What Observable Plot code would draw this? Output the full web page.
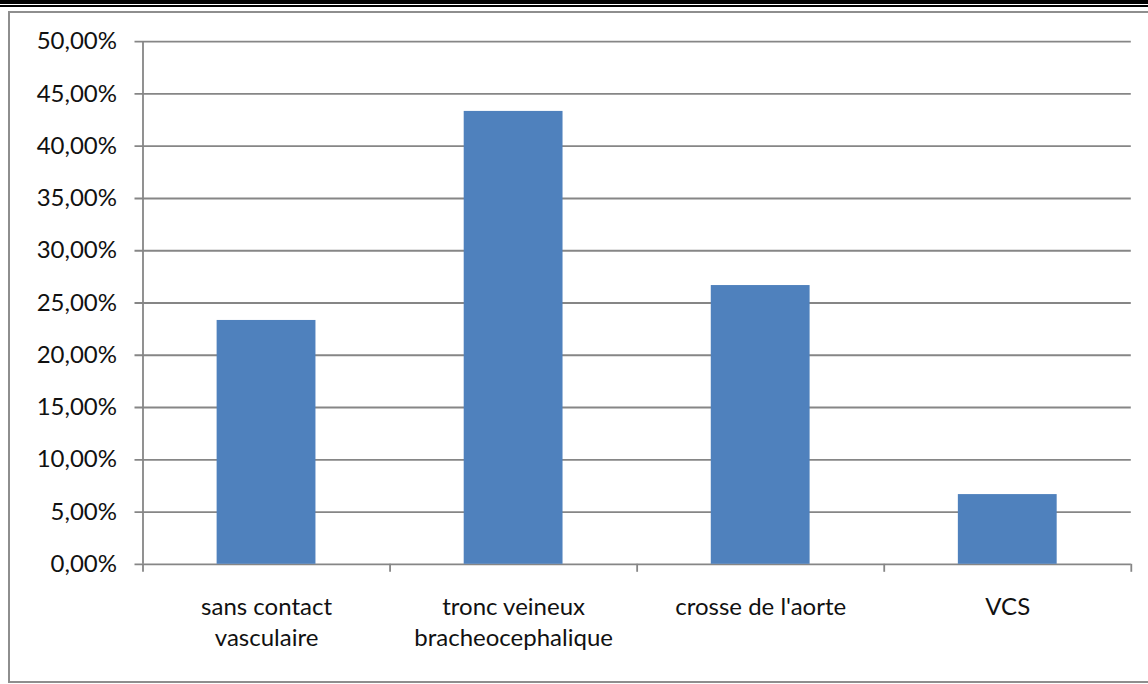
<!DOCTYPE html>
<html>
<head>
<meta charset="utf-8">
<script src="https://cdn.jsdelivr.net/npm/d3@7"></script>
<script src="https://cdn.jsdelivr.net/npm/@observablehq/plot@0.6"></script>
<style>
  html, body { margin: 0; padding: 0; background: #fff; }
  #page { position: relative; width: 1148px; height: 684px; overflow: hidden; background: #fff; }
  .line-thick { position: absolute; left: 0; top: 0; width: 100%; height: 4px; background: #000; }
  .line-thin { position: absolute; left: 0; top: 5px; width: 100%; height: 2px; background: #000; }
  .frame { position: absolute; left: 8px; top: 11px; width: 1200px; height: 668px; border: 2px solid #8e8e8e; }
  #chart { position: absolute; left: 0; top: 0; }
</style>
</head>
<body>
<div id="page">
  <div class="line-thick"></div>
  <div class="line-thin"></div>
  <div class="frame"></div>
  <div id="chart"></div>
</div>
<script>
// Categories (line breaks as shown under each bar) and their shares, in percent
const categories = ["sans contact\nvasculaire", "tronc veineux\nbracheocephalique", "crosse de l'aorte", "VCS"];
const shares = [23.33, 43.33, 26.67, 6.67];
const yTicks = [0, 5, 10, 15, 20, 25, 30, 35, 40, 45, 50];

const bars = categories.map((label, i) => ({label, share: shares[i], slot: i}));
const slotEdges = d3.range(categories.length + 1);

const frFormat = (v) => v.toFixed(2).replace(".", ",") + "%";
const gridColor = "#868686";

const chart = Plot.plot({
  width: 1148,
  height: 684,
  marginLeft: 142.5,
  marginRight: 17.2,
  marginTop: 41.2,
  marginBottom: 120.2,
  style: {background: "transparent", fontFamily: "Lato", fontSize: "24px", color: "#111"},
  x: {domain: [0, categories.length], axis: null},
  y: {domain: [0, 50], ticks: yTicks, tickSize: 0, tickPadding: 26, tickFormat: frFormat, label: null},
  marks: [
    // horizontal gridlines, each with a short tick to the left of the axis
    Plot.ruleY(yTicks, {x1: 0, x2: categories.length, insetLeft: -8, stroke: gridColor, strokeWidth: 1.8}),
    Plot.rectY(bars, {x1: (d) => d.slot + 0.3, x2: (d) => d.slot + 0.7, y: "share", fill: "#4f81bd"}),
    // vertical axis line
    Plot.ruleX([0], {y1: 0, y2: 50, stroke: gridColor, strokeWidth: 1.8}),
    // category boundary ticks below the baseline
    Plot.ruleX(slotEdges, {y1: 0, y2: 0, insetBottom: -8, stroke: gridColor, strokeWidth: 1.8}),
    // category labels
    Plot.text(bars, {
      x: (d) => d.slot + 0.5,
      frameAnchor: "bottom",
      text: "label",
      lineAnchor: "top",
      lineHeight: 1.32,
      dy: 28,
      fontSize: 24,
      fill: "#111"
    })
  ]
});
document.getElementById("chart").appendChild(chart);
</script>
</body>
</html>
